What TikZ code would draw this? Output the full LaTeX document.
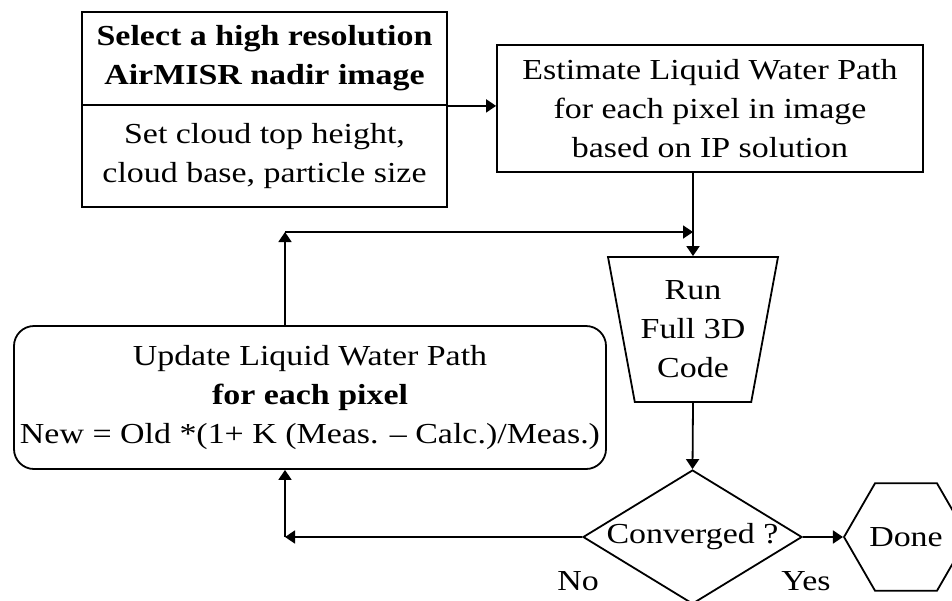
\documentclass[tikz,border=0pt]{standalone}
\usepackage{fontspec}
\setmainfont{Liberation Serif}[FakeStretch=1.17]
\usetikzlibrary{shapes.geometric,arrows.meta}

\tikzset{
  box/.style={draw, line width=0.9pt, align=center, inner sep=0pt},
  flow/.style={line width=0.9pt, -{Triangle[length=5pt,width=6.5pt]}},
  lbl/.style={inner sep=0pt}
}

\begin{document}
\begin{tikzpicture}[x=0.5pt,y=-0.5pt,every node/.style={font=\fontsize{14.5}{19.5}\selectfont}]
\useasboundingbox (0,0) rectangle (952,600);

\node[box,minimum width=182.5pt,minimum height=46.5pt] (select) at (264.5,58.5) {\textbf{Select a high resolution}\\\textbf{AirMISR nadir image}};
\node[box,minimum width=182.5pt,minimum height=51pt] (setup) at (264.5,156) {Set cloud top height,\\cloud base, particle size};
\node[box,minimum width=213pt,minimum height=63.5pt] (estimate) at (710,108.5) {Estimate Liquid Water Path\\for each pixel in image\\based on IP solution};
\node[box,trapezium,trapezium left angle=105.4,trapezium right angle=105.4,trapezium stretches body,minimum width=85pt,minimum height=72.5pt] (run) at (693,329.5) {Run\\Full 3D\\Code};
\node[box,rounded corners=10pt,minimum width=296pt,minimum height=71.5pt] (update) at (310,397.5) {Update Liquid Water Path\\\textbf{for each pixel}\\New = Old *(1+ K (Meas. – Calc.)/Meas.)};
\node[box,diamond,aspect=1.63,minimum width=109.5pt,minimum height=67pt] (conv) at (692.5,537) {Converged ?};
\node[box,regular polygon,regular polygon sides=6,minimum size=62pt] (done) at (906,537) {Done};
\node[lbl] (no) at (578,581) {No};
\node[lbl] (yes) at (806,581) {Yes};

\coordinate (up) at (285,232);
\coordinate (back) at (285,537);

\draw[flow] (select.south east) -- (select.south east -| estimate.west);
\draw[flow] (estimate.south -| run.north) -- (run.north);
\draw[flow] (update.north -| up) -- (up);
\draw[flow] (up) -- (up -| run.north);
\draw[flow] (run.south) -- (conv.north);
\draw[flow] (conv.east) -- (conv.east -| done.west);
\draw[flow] (conv.west) -- (back);
\draw[flow] (back) -- (update.south -| back);
\end{tikzpicture}
\end{document}
